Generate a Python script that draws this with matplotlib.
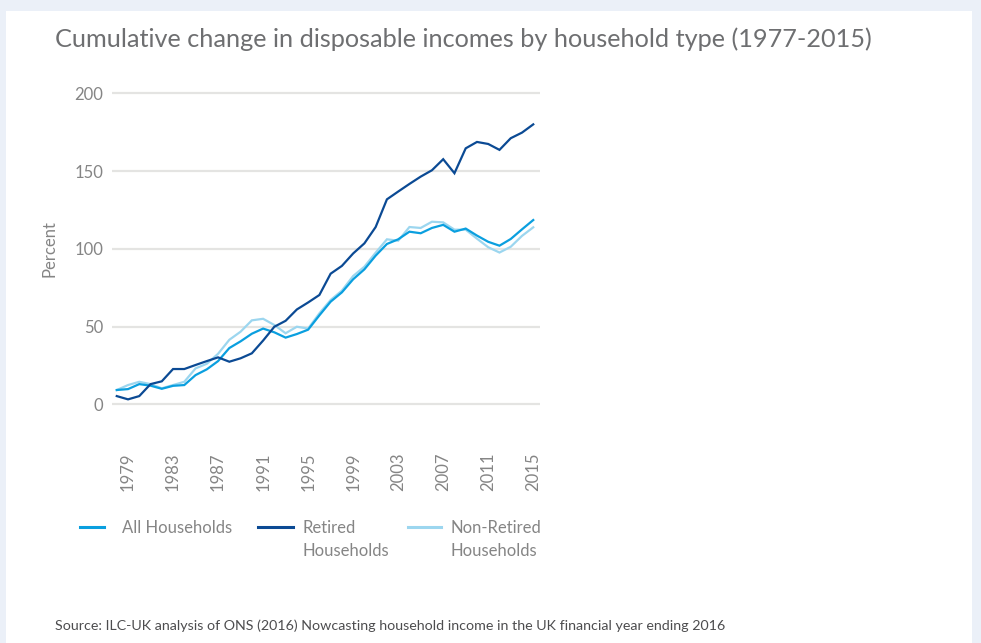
import matplotlib
matplotlib.use("Agg")
import matplotlib.pyplot as plt
from matplotlib.lines import Line2D
from matplotlib.patches import Rectangle

# Financial years (year ending), 1977/78 to 2014/15
years = list(range(1978, 2016))

# Cumulative change in disposable income since the base year, percent
all_households = [9.2, 9.8, 13.0, 12.0, 10.0, 11.9, 12.4, 18.8, 22.5, 27.8,
                  36.2, 40.5, 45.4, 48.7, 46.3, 42.9, 45.2, 48.0, 57.2, 66.0,
                  72.0, 80.4, 86.8, 95.6, 103.1, 106.1, 111.0, 110.0, 113.4, 115.4,
                  111.0, 113.0, 108.5, 104.5, 102.0, 106.3, 112.5, 118.5]
retired = [5.3, 3.2, 5.3, 13.0, 14.8, 22.7, 22.7, 25.3, 27.8, 30.2,
           27.4, 29.6, 32.8, 41.0, 49.9, 53.7, 61.0, 65.5, 70.3, 84.0,
           89.0, 97.0, 103.5, 114.0, 131.8, 136.8, 141.7, 146.4, 150.5, 157.6,
           148.6, 164.6, 168.7, 167.4, 163.6, 171.1, 174.7, 180.0]
non_retired = [9.2, 12.4, 14.5, 13.0, 10.3, 12.4, 14.5, 23.1, 26.1, 32.5,
               41.5, 46.7, 54.0, 55.0, 51.0, 45.7, 49.9, 48.7, 58.5, 67.1,
               73.1, 82.5, 88.5, 97.5, 106.1, 105.2, 114.0, 113.4, 117.4, 117.0,
               112.3, 112.3, 106.5, 101.0, 97.6, 101.3, 108.3, 113.8]

series_labels = ["All Households", "Retired\nHouseholds", "Non-Retired\nHouseholds"]
series_colors = ["#0A9FDF", "#0B4A94", "#9CD6EF"]
y_ticks = [0, 50, 100, 150, 200]
x_ticks = [1979, 1983, 1987, 1991, 1995, 1999, 2003, 2007, 2011, 2015]

title = "Cumulative change in disposable incomes by household type (1977-2015)"
source = ("Source: ILC-UK analysis of ONS (2016) Nowcasting household income "
          "in the UK financial year ending 2016")

plt.rcParams["font.family"] = ["Lato", "DejaVu Sans"]

W, H = 981, 643
fig = plt.figure(figsize=(W / 100, H / 100), dpi=100)
fig.patch.set_facecolor("#EBF0F8")
fig.add_artist(Rectangle((6 / W, 0), 966 / W, (H - 11) / H,
                         transform=fig.transFigure, facecolor="white",
                         edgecolor="none", zorder=-10))


def px(x, y):
    """Pixel position (from top-left) to figure fraction."""
    return x / W, 1 - y / H


# plot area
ax_left, ax_right = 111.7, 540.0
ax_top, ax_bottom = 88.6, 409.0
ax = fig.add_axes([ax_left / W, 1 - ax_bottom / H,
                   (ax_right - ax_left) / W, (ax_bottom - ax_top) / H])
ax.set_zorder(1)
ax.set_facecolor("none")
ax.set_xlim(1977.55, 2015.6)
ax.set_ylim(-3, 203)
for s in ax.spines.values():
    s.set_visible(False)

ax.set_yticks(y_ticks)
ax.yaxis.grid(True, color="#E4E4E2", linewidth=1.6)
ax.set_axisbelow(True)
ax.set_xticks(x_ticks)
ax.set_xticklabels([str(y) for y in x_ticks], rotation=90, va="top", ha="center")
ax.tick_params(axis="both", length=0, colors="#858585", labelsize=12)
ax.tick_params(axis="x", pad=31)
ax.tick_params(axis="y", pad=6)

series = [all_households, retired, non_retired]
order = [2, 0, 1]
for i in order:
    ax.plot(years, series[i], color=series_colors[i], linewidth=1.6,
            solid_joinstyle="miter", zorder=3 + order.index(i))

# axis title
fig.text(*px(50, 248.6), "Percent", rotation=90, ha="center", va="center",
         color="#858585", fontsize=12)

# title and source
t_title = fig.text(*px(55, 47), title, ha="left", va="baseline",
                   color="#6E6F71", fontsize=20)
t_src = fig.text(*px(55, 630), source, ha="left", va="baseline",
                 color="#4D4D4F", fontsize=11)

# legend
key_x = [(80, 104), (258, 293), (408, 441)]
text_x = [122, 302, 451]
row_y = [528, 551.5]
key_y = 527
legend_texts = []
for (x0, x1), tx, lab, col in zip(key_x, text_x, series_labels, series_colors):
    fig.add_artist(Line2D([x0 / W, x1 / W], [1 - key_y / H, 1 - key_y / H],
                          transform=fig.transFigure, color=col, linewidth=2.2))
    for k, line in enumerate(lab.split("\n")):
        legend_texts.append(fig.text(*px(tx, row_y[k]), line, ha="left",
                                     va="center", color="#858585", fontsize=12.5))

fig.canvas.draw()
r = fig.canvas.get_renderer()


def fit(txt, target):
    w = txt.get_window_extent(r).width
    txt.set_fontsize(txt.get_fontsize() * target / w)


fit(t_title, 818)
fit(t_src, 674)
w_all = legend_texts[0].get_window_extent(r).width
scale = 110.5 / w_all
for t in legend_texts:
    t.set_fontsize(t.get_fontsize() * scale)

fig.savefig("out.png", dpi=100, facecolor=fig.get_facecolor())
